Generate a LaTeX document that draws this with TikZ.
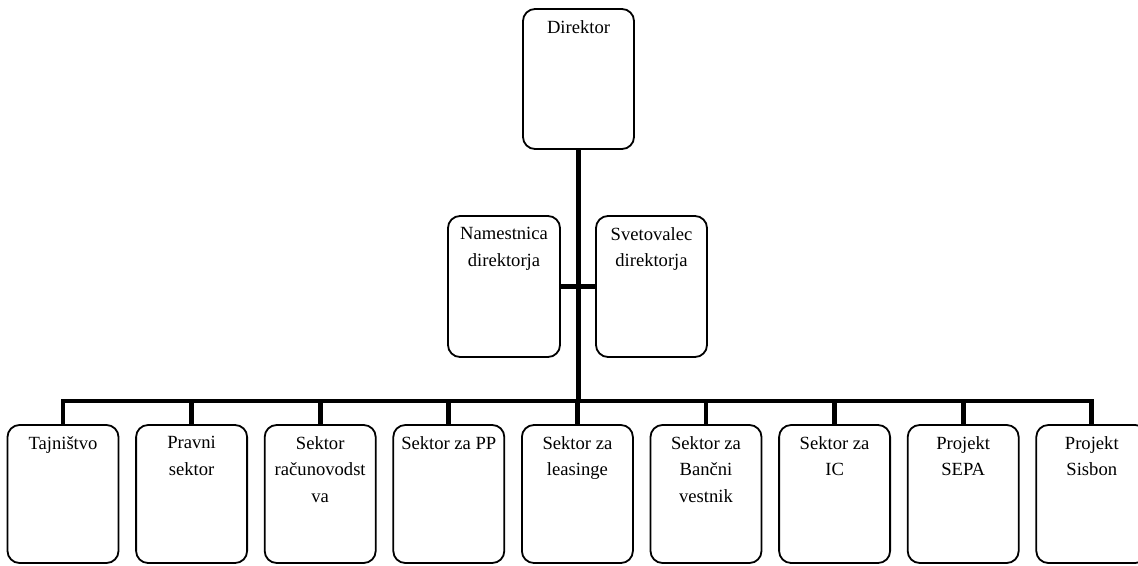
\documentclass[tikz,border=0pt]{standalone}
\usepackage{fontspec}
\setmainfont{Liberation Serif}
\usetikzlibrary{positioning}

\tikzset{
  unit/.style={draw=black, line width=1.8pt, rounded corners=12pt, minimum width=111pt, inner sep=0pt},
  unittext/.style={anchor=north, inner sep=0pt, align=center, font=\fontsize{18.6}{26.5}\selectfont},
  link/.style={draw=black, line width=4.8pt}
}

\begin{document}
\begin{tikzpicture}[x=1pt,y=1pt,yscale=-1,xscale=1]
\useasboundingbox (0,0) rectangle (1138,565);
\clip (0,0) rectangle (1138,565);

% top
\node [unit, minimum height=140pt] (dir) at (578.5,79) {};
\node [unittext, yshift=-12pt] (dirT) at (dir.north) {Direktor};

% middle row
\node [unit, minimum width=112pt, minimum height=141pt] (nam) at (504,286.5) {};
\node [unittext, yshift=-12pt] (namT) at (nam.north) {Namestnica\\direktorja};
\node [unit, minimum height=141pt] (svt) at (651.5,286.5) {};
\node [unittext, yshift=-12pt] (svtT) at (svt.north) {Svetovalec\\direktorja};

% bottom row
\node [unit, minimum height=138pt] (taj) at (63,494) {};
\node [unittext, yshift=-12pt] (tajT) at (taj.north) {Tajništvo};
\node [unit, minimum height=138pt] (prv) at (191.6,494) {};
\node [unittext, yshift=-12pt] (prvT) at (prv.north) {Pravni\\sektor};
\node [unit, minimum height=138pt] (rac) at (320.2,494) {};
\node [unittext, yshift=-12pt] (racT) at (rac.north) {Sektor\\računovodst\\va};
\node [unit, minimum height=138pt] (spp) at (448.8,494) {};
\node [unittext, yshift=-12pt] (sppT) at (spp.north) {Sektor za PP};
\node [unit, minimum height=138pt] (lea) at (577.4,494) {};
\node [unittext, yshift=-12pt] (leaT) at (lea.north) {Sektor za\\leasinge};
\node [unit, minimum height=138pt] (bvs) at (706,494) {};
\node [unittext, yshift=-12pt] (bvsT) at (bvs.north) {Sektor za\\Bančni\\vestnik};
\node [unit, minimum height=138pt] (sic) at (834.6,494) {};
\node [unittext, yshift=-12pt] (sicT) at (sic.north) {Sektor za\\IC};
\node [unit, minimum height=138pt] (sep) at (963.2,494) {};
\node [unittext, yshift=-12pt] (sepT) at (sep.north) {Projekt\\SEPA};
\node [unit, minimum height=138pt] (sis) at (1091.8,494) {};
\node [unittext, yshift=-12pt] (sisT) at (sis.north) {Projekt\\Sisbon};

% connectors
\coordinate (bus) at (578,401);
\draw [link] (dir.south) -- (dir.south |- bus);
\draw [link] (nam.east) -- (svt.west);
\draw [link] (taj.north) -- (taj.north |- bus) -- (sis.north |- bus) -- (sis.north);
\foreach \n in {prv,rac,spp,lea,bvs,sic,sep}
  \draw [link] (\n.north) -- (\n.north |- bus);

\end{tikzpicture}
\end{document}
